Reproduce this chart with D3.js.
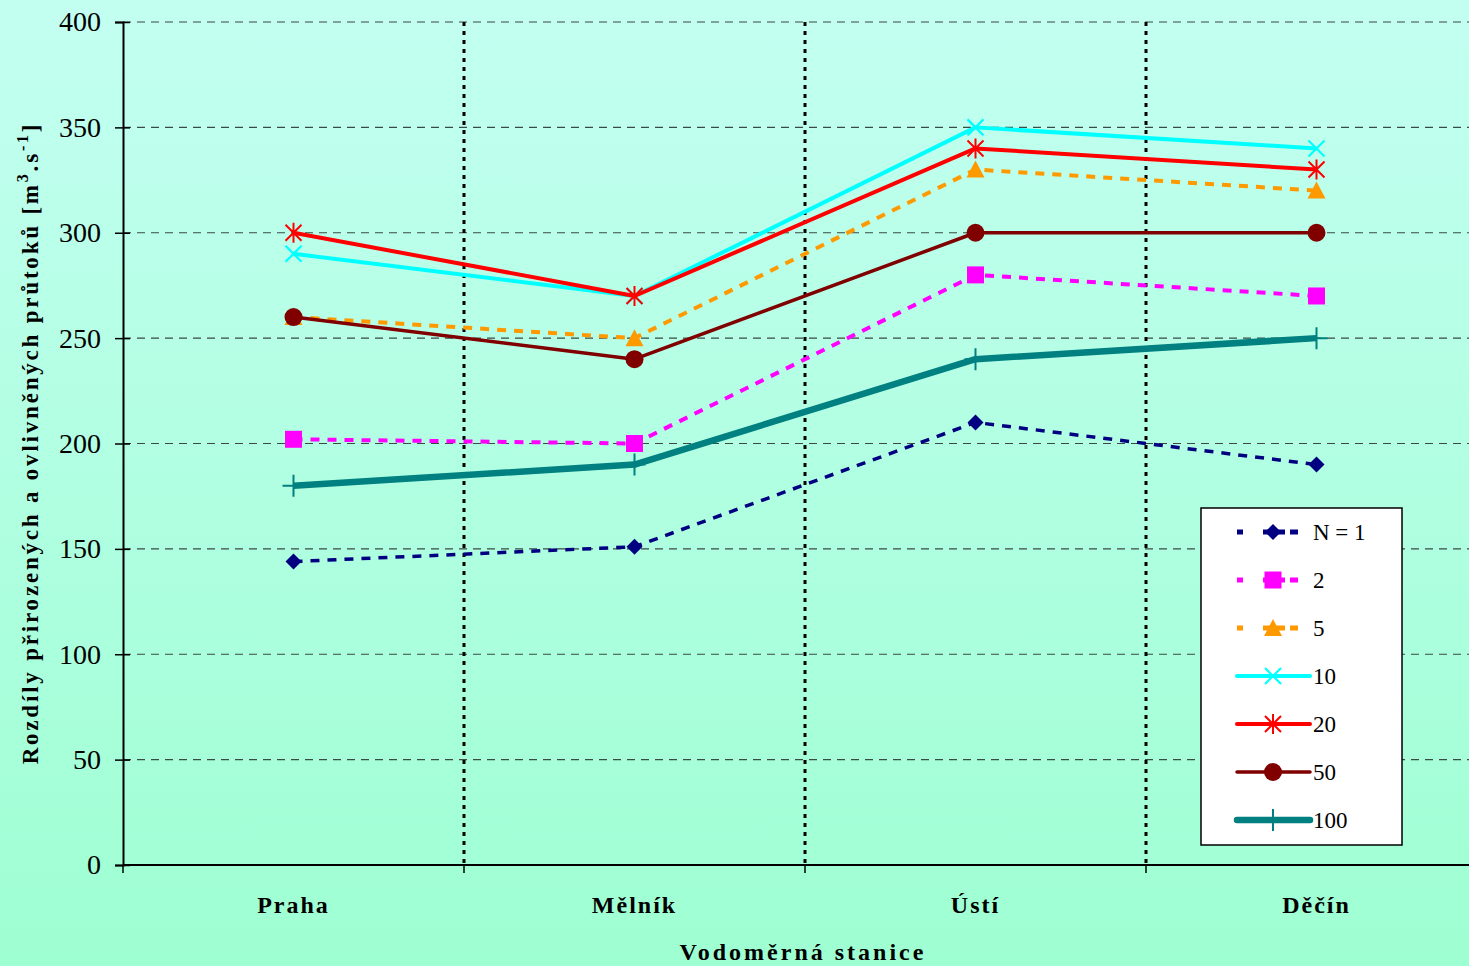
<!DOCTYPE html>
<html>
<head>
<meta charset="utf-8">
<script src="https://cdn.jsdelivr.net/npm/d3@7"></script>
<style>
  html, body { margin: 0; padding: 0; background: #fff; }
  svg { display: block; font-family: "Liberation Serif", "Times New Roman", serif; }
</style>
</head>
<body>
<svg id="chart" width="1469" height="966"></svg>
<script>
// -----------------------
// Data
// -----------------------
const stations = ["Praha", "Mělník", "Ústí", "Děčín"];
const seriesNames = ["N = 1", "2", "5", "10", "20", "50", "100"];
const valuesN1 = [144, 151, 210, 190];
const valuesN2 = [202, 200, 280, 270];
const valuesN5 = [260, 250, 330, 320];
const valuesN10 = [290, 270, 350, 340];
const valuesN20 = [300, 270, 340, 330];
const valuesN50 = [260, 240, 300, 300];
const valuesN100 = [180, 190, 240, 250];
const yTicks = [0, 50, 100, 150, 200, 250, 300, 350, 400];

// styles per series
const styles = [
  { values: valuesN1, color: "#000080", width: 3.5, dash: "9,8", marker: "diamond" },
  { values: valuesN2, color: "#ff00ff", width: 4, dash: "9,8", marker: "square" },
  { values: valuesN5, color: "#ff9900", width: 4, dash: "9,8", marker: "triangle" },
  { values: valuesN10, color: "#00ffff", width: 4, dash: null, marker: "x" },
  { values: valuesN20, color: "#ff0000", width: 4, dash: null, marker: "star" },
  { values: valuesN50, color: "#800000", width: 3.5, dash: null, marker: "circle" },
  { values: valuesN100, color: "#008080", width: 6.5, dash: null, marker: "plus" }
];

const svg = d3.select("#chart");

// background gradient
const defs = svg.append("defs");
const grad = defs.append("linearGradient")
  .attr("id", "bg").attr("x1", 0).attr("y1", 0).attr("x2", 0).attr("y2", 1);
grad.append("stop").attr("offset", "0%").attr("stop-color", "#c3fff1");
grad.append("stop").attr("offset", "100%").attr("stop-color", "#9effd2");
svg.append("rect").attr("width", 1469).attr("height", 966).attr("fill", "url(#bg)");

const plotLeft = 123, plotTop = 22, plotBottom = 865;
const x = d3.scalePoint().domain(stations).range([plotLeft, plotLeft + 4 * 341]).padding(0.5);
const y = d3.scaleLinear().domain([0, 400]).range([plotBottom, plotTop]);

// gridlines
svg.append("g")
  .selectAll("line")
  .data(yTicks.filter(d => d > 0))
  .join("line")
  .attr("x1", plotLeft).attr("x2", 1469)
  .attr("y1", d => y(d)).attr("y2", d => y(d))
  .attr("stroke", "#3a4a44").attr("stroke-width", 1.2)
  .attr("stroke-dasharray", "8,6");

// vertical separators between stations
const seps = stations.slice(1).map(s => x(s) - x.step() / 2);
svg.append("g")
  .selectAll("line")
  .data(seps)
  .join("line")
  .attr("x1", d => d).attr("x2", d => d)
  .attr("y1", plotTop).attr("y2", plotBottom)
  .attr("stroke", "#000").attr("stroke-width", 3)
  .attr("stroke-dasharray", "4,5");

// y axis
const yAxis = svg.append("g")
  .attr("transform", `translate(${plotLeft},0)`)
  .call(d3.axisLeft(y).tickValues(yTicks).tickSize(8).tickPadding(14));
yAxis.select(".domain").attr("stroke", "#000").attr("stroke-width", 2);
yAxis.selectAll(".tick line").attr("x1", 7).attr("stroke", "#000").attr("stroke-width", 1.5);
yAxis.selectAll(".tick text")
  .attr("font-family", "Liberation Serif, serif")
  .attr("font-size", 28).attr("fill", "#000");

// x axis
const xAxis = svg.append("g")
  .attr("transform", `translate(0,${plotBottom})`);
xAxis.append("line")
  .attr("x1", plotLeft).attr("x2", 1469).attr("y1", 0).attr("y2", 0)
  .attr("stroke", "#000").attr("stroke-width", 2);
xAxis.selectAll(".xt")
  .data([plotLeft].concat(seps))
  .join("line")
  .attr("class", "xt")
  .attr("x1", d => d).attr("x2", d => d)
  .attr("y1", 0).attr("y2", 8)
  .attr("stroke", "#000").attr("stroke-width", 1.5);
xAxis.selectAll(".xl")
  .data(stations)
  .join("text")
  .attr("class", "xl")
  .attr("x", d => x(d)).attr("y", 48)
  .attr("text-anchor", "middle")
  .attr("font-size", 24).attr("font-weight", "bold")
  .attr("letter-spacing", 2)
  .text(d => d);

// axis titles
svg.append("text")
  .attr("x", 803).attr("y", 960)
  .attr("text-anchor", "middle")
  .attr("font-size", 24).attr("font-weight", "bold")
  .attr("letter-spacing", 3)
  .text("Vodoměrná stanice");

const yTitle = svg.append("text")
  .attr("transform", "translate(38,443) rotate(-90)")
  .attr("text-anchor", "middle")
  .attr("font-size", 23).attr("font-weight", "bold")
  .attr("letter-spacing", 2.8);
yTitle.append("tspan").text("Rozdíly přirozených a ovlivněných průtoků [m");
yTitle.append("tspan").attr("dy", -10).attr("font-size", 16).text("3");
yTitle.append("tspan").attr("dy", 10).text(".s");
yTitle.append("tspan").attr("dy", -10).attr("font-size", 16).text("-1");
yTitle.append("tspan").attr("dy", 10).text("]");

// marker drawing
function drawMarker(g, type, color) {
  if (type === "diamond") {
    g.append("path").attr("d", "M0,-8L8,0L0,8L-8,0Z").attr("fill", color);
  } else if (type === "square") {
    g.append("rect").attr("x", -8.5).attr("y", -8.5).attr("width", 17).attr("height", 17).attr("fill", color);
  } else if (type === "triangle") {
    g.append("path").attr("d", "M0,-9L9,8L-9,8Z").attr("fill", color);
  } else if (type === "x") {
    g.append("path").attr("d", "M-8,-8L8,8M-8,8L8,-8").attr("stroke", color).attr("stroke-width", 2.2);
  } else if (type === "star") {
    g.append("path").attr("d", "M-8,-8L8,8M-8,8L8,-8M0,-10L0,10").attr("stroke", color).attr("stroke-width", 2);
  } else if (type === "circle") {
    g.append("circle").attr("r", 9).attr("fill", color);
  } else if (type === "plus") {
    g.append("path").attr("d", "M0,-11L0,11M-11,0L11,0").attr("stroke", color).attr("stroke-width", 2);
  }
}

// series
const line = d3.line().x((d, i) => x(stations[i])).y(d => y(d));
styles.forEach(s => {
  const g = svg.append("g");
  g.append("path")
    .attr("d", line(s.values))
    .attr("fill", "none")
    .attr("stroke", s.color)
    .attr("stroke-width", s.width)
    .attr("stroke-linejoin", "round")
    .attr("stroke-dasharray", s.dash);
  s.values.forEach((v, i) => {
    const m = g.append("g").attr("transform", `translate(${x(stations[i])},${y(v)})`);
    drawMarker(m, s.marker, s.color);
  });
});

// legend
const legend = svg.append("g").attr("transform", "translate(1201,508)");
legend.append("rect")
  .attr("width", 201).attr("height", 337)
  .attr("fill", "#fff").attr("stroke", "#000").attr("stroke-width", 1.5);
styles.forEach((s, i) => {
  const ly = 24 + i * 48;
  legend.append("line")
    .attr("x1", 36).attr("x2", s.dash ? 97 : 109).attr("y1", ly).attr("y2", ly)
    .attr("stroke", s.color).attr("stroke-width", s.dash ? 5 : s.width)
    .attr("stroke-linecap", s.dash ? "butt" : "round")
    .attr("stroke-dasharray", s.dash ? "6,20,22,5,9,100" : null);
  const m = legend.append("g").attr("transform", `translate(72,${ly})`);
  drawMarker(m, s.marker, s.color);
  legend.append("text")
    .attr("x", 112).attr("y", ly + 8)
    .attr("font-size", 23)
    .text(seriesNames[i]);
});
</script>
</body>
</html>
